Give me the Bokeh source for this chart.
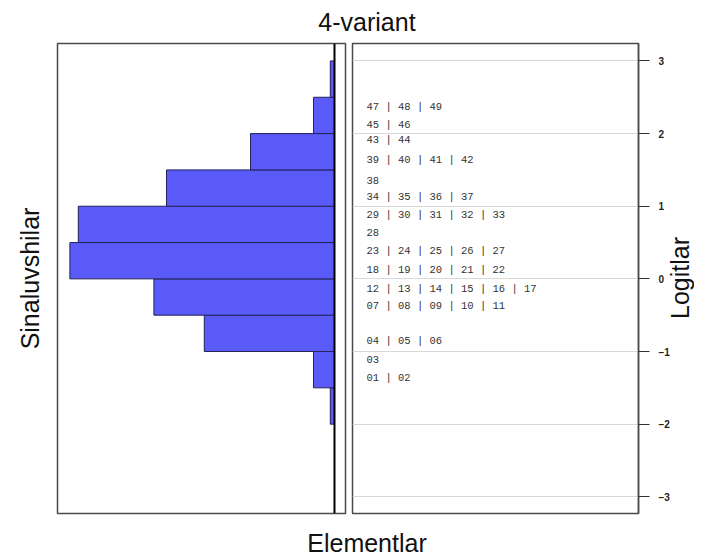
from bokeh.plotting import figure
from bokeh.models import Range1d, FixedTicker, Span, Div
from bokeh.layouts import row, column
from bokeh.embed import file_html
from bokeh.resources import INLINE
from bokeh.core.properties import value

# ---------------- data ----------------
# person histogram (bins of 0.5 logit)
bin_lower = [-2.0, -1.5, -1.0, -0.5, 0.0, 0.5, 1.0, 1.5, 2.0, 2.5]
person_counts = [1, 5, 31, 43, 63, 61, 40, 20, 5, 1]
bin_width = 0.5

# item labels and their logit positions
item_labels = [
    "01 | 02",
    "03",
    "04 | 05 | 06",
    "07 | 08 | 09 | 10 | 11",
    "12 | 13 | 14 | 15 | 16 | 17",
    "18 | 19 | 20 | 21 | 22",
    "23 | 24 | 25 | 26 | 27",
    "28",
    "29 | 30 | 31 | 32 | 33",
    "34 | 35 | 36 | 37",
    "38",
    "39 | 40 | 41 | 42",
    "43 | 44",
    "45 | 46",
    "47 | 48 | 49",
]
item_logits = [-1.37, -1.11, -0.86, -0.37, -0.14, 0.12, 0.38, 0.64, 0.88,
               1.13, 1.36, 1.64, 1.91, 2.12, 2.37]
logit_ticks = [-3, -2, -1, 0, 1, 2, 3]

title_text = "4-variant"
x_label = "Elementlar"
left_label = "Sinaluvshilar"
right_label = "Logitlar"

# ---------------- styling ----------------
SANS = "Liberation Sans"
BAR_FILL = "#5a5af8"
BAR_LINE = "#23235a"
FRAME = "#4a4a4a"

bin_centers = [b + bin_width / 2 for b in bin_lower]

yr = Range1d(-3.23, 3.24)

# ---------------- left panel: persons ----------------
left = figure(width=349, height=474, x_range=Range1d(65.95, -2.62), y_range=yr,
              output_backend="svg", toolbar_location=None,
              x_axis_location=None, y_axis_location="left",
              min_border_left=57, min_border_right=4,
              min_border_top=2, min_border_bottom=2)
left.grid.visible = False
left.outline_line_color = FRAME
left.outline_line_width = 1.5
left.border_fill_color = "white"

left.hbar(y=bin_centers, height=bin_width, left=0, right=person_counts,
          fill_color=BAR_FILL, line_color=BAR_LINE, line_width=1)
left.add_layout(Span(location=0, dimension="height", line_color="black", line_width=2))

ya = left.yaxis[0]
ya.ticker = FixedTicker(ticks=[])
ya.axis_line_color = None
ya.major_tick_line_color = None
ya.minor_tick_line_color = None
ya.major_tick_out = 0
ya.major_tick_in = 0
ya.major_label_standoff = 0
ya.axis_label = left_label
ya.axis_label_text_font = SANS
ya.axis_label_text_font_style = "normal"
ya.axis_label_text_font_size = "25px"
ya.axis_label_text_color = "#111111"
ya.axis_label_standoff = 14

# ---------------- right panel: items ----------------
right = figure(width=323, height=474, x_range=Range1d(0, 1), y_range=yr,
               output_backend="svg", toolbar_location=None,
               x_axis_location=None, y_axis_location="right",
               min_border_left=3, min_border_right=34,
               min_border_top=2, min_border_bottom=2)
right.xgrid.visible = False
right.ygrid.grid_line_color = "#d8d8d8"
right.ygrid.grid_line_width = 1
right.outline_line_color = FRAME
right.outline_line_width = 1.5
right.border_fill_color = "white"

right.text(x=0, y=item_logits, text=item_labels, x_offset=14,
           text_align="left", text_baseline="middle",
           text_font=value("Liberation Mono"), text_font_size="10.5px",
           text_color="#333333")

ra = right.yaxis[0]
ra.ticker = FixedTicker(ticks=logit_ticks)
ra.axis_line_color = FRAME
ra.axis_line_width = 1.5
ra.major_tick_line_color = "#333333"
ra.major_tick_line_width = 1
ra.major_tick_out = 11
ra.major_tick_in = 0
ra.minor_tick_line_color = None
ra.major_label_standoff = 9
ra.major_label_text_font = SANS
ra.major_label_text_font_style = "bold"
ra.major_label_text_font_size = "10px"
ra.major_label_text_color = "#222222"

# right-side axis title, reading bottom-to-top
right_title = Div(
    text=(f'<div style="writing-mode:vertical-rl;transform:rotate(180deg);'
          f'height:474px;width:16px;text-align:center;line-height:16px;'
          f'font-family:\'{SANS}\',Arial,sans-serif;font-size:25px;color:#111111;'
          f'white-space:nowrap;">{right_label}</div>'),
    width=16, height=474, margin=0)

# ---------------- title and bottom label ----------------
title_div = Div(
    text=(f'<div style="box-sizing:border-box;padding-left:26px;padding-top:8px;width:708px;'
          f'text-align:center;font-family:\'{SANS}\',Arial,sans-serif;font-size:25px;'
          f'line-height:28px;color:#111111;">{title_text}</div>'),
    width=708, height=41, margin=0)
bottom_div = Div(
    text=(f'<div style="box-sizing:border-box;padding-left:26px;padding-top:17px;width:708px;'
          f'text-align:center;font-family:\'{SANS}\',Arial,sans-serif;font-size:25px;'
          f'line-height:23px;color:#111111;">{x_label}</div>'),
    width=708, height=40, margin=0)

layout = column(title_div, row(left, right, right_title), bottom_div)

open("out.html", "w").write(file_html(layout, INLINE))
